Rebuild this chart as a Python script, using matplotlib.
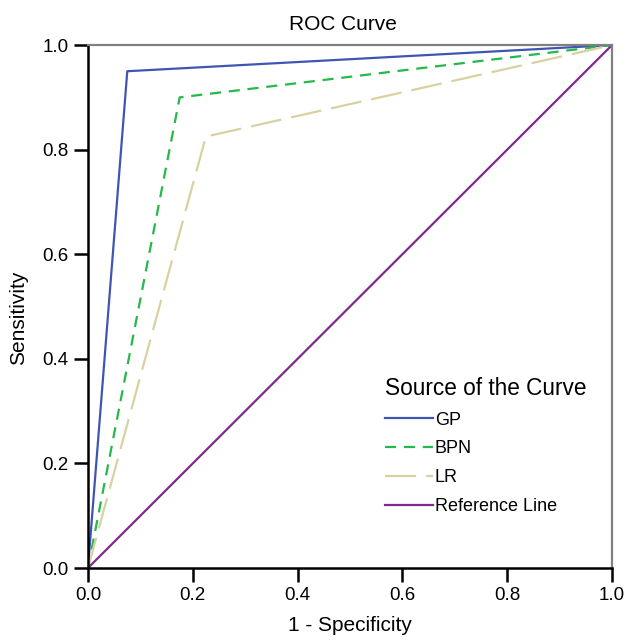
import numpy as np
import matplotlib.pyplot as plt

plt.rcParams['font.family'] = ['Liberation Sans', 'DejaVu Sans']

# ROC points (1 - specificity, sensitivity)
gp_x = [0.0, 0.075, 1.0]
gp_y = [0.0, 0.95, 1.0]
bpn_x = [0.0, 0.175, 1.0]
bpn_y = [0.0, 0.90, 1.0]
lr_x = [0.0, 0.225, 1.0]
lr_y = [0.0, 0.825, 1.0]
ref_x = [0.0, 1.0]
ref_y = [0.0, 1.0]

ticks = [0.0, 0.2, 0.4, 0.6, 0.8, 1.0]

fig = plt.figure(figsize=(6.28, 6.44), dpi=100)
ax = fig.add_axes([0.1401, 0.118, 0.8344, 0.812])

ax.plot(gp_x, gp_y, color='#3f55b3', lw=1.6, label='GP')
ax.plot(bpn_x, bpn_y, color='#25b84a', lw=1.6, dashes=(5, 3.5), label='BPN')
ax.plot(lr_x, lr_y, color='#d8d1a1', lw=1.6, dashes=(14, 4.5), label='LR')
ax.plot(ref_x, ref_y, color='#7d2a8b', lw=1.6, label='Reference Line')

ax.set_xlim(0, 1)
ax.set_ylim(0, 1)
ax.set_xticks(ticks)
ax.set_yticks(ticks)
ax.set_xticklabels(['%.1f' % t for t in ticks], fontsize=13.5)
ax.set_yticklabels(['%.1f' % t for t in ticks], fontsize=13.5)
ax.tick_params(direction='out', length=10, width=1.8, color='black', pad=4)

for s in ['left', 'bottom']:
    ax.spines[s].set_color('black')
    ax.spines[s].set_linewidth(1.8)
for s in ['top', 'right']:
    ax.spines[s].set_color('#808080')
    ax.spines[s].set_linewidth(1.6)

ax.set_xlabel('1 - Specificity', fontsize=15, labelpad=8)
ax.set_ylabel('Sensitivity', fontsize=15)
ax.yaxis.set_label_coords(-0.1145, 0.478)
ax.set_title('ROC Curve', fontsize=15, pad=11, x=0.487)

leg = ax.legend(title='Source of the Curve', loc='upper left',
                bbox_to_anchor=(385 / 628, 1 - 377 / 644),
                bbox_transform=fig.transFigure, borderaxespad=0, borderpad=0,
                frameon=False, fontsize=13, title_fontsize=16.3,
                handlelength=2.65, handletextpad=0.1, labelspacing=0.65)
leg._legend_box.align = 'left'

fig.savefig('out.png', dpi=100)
